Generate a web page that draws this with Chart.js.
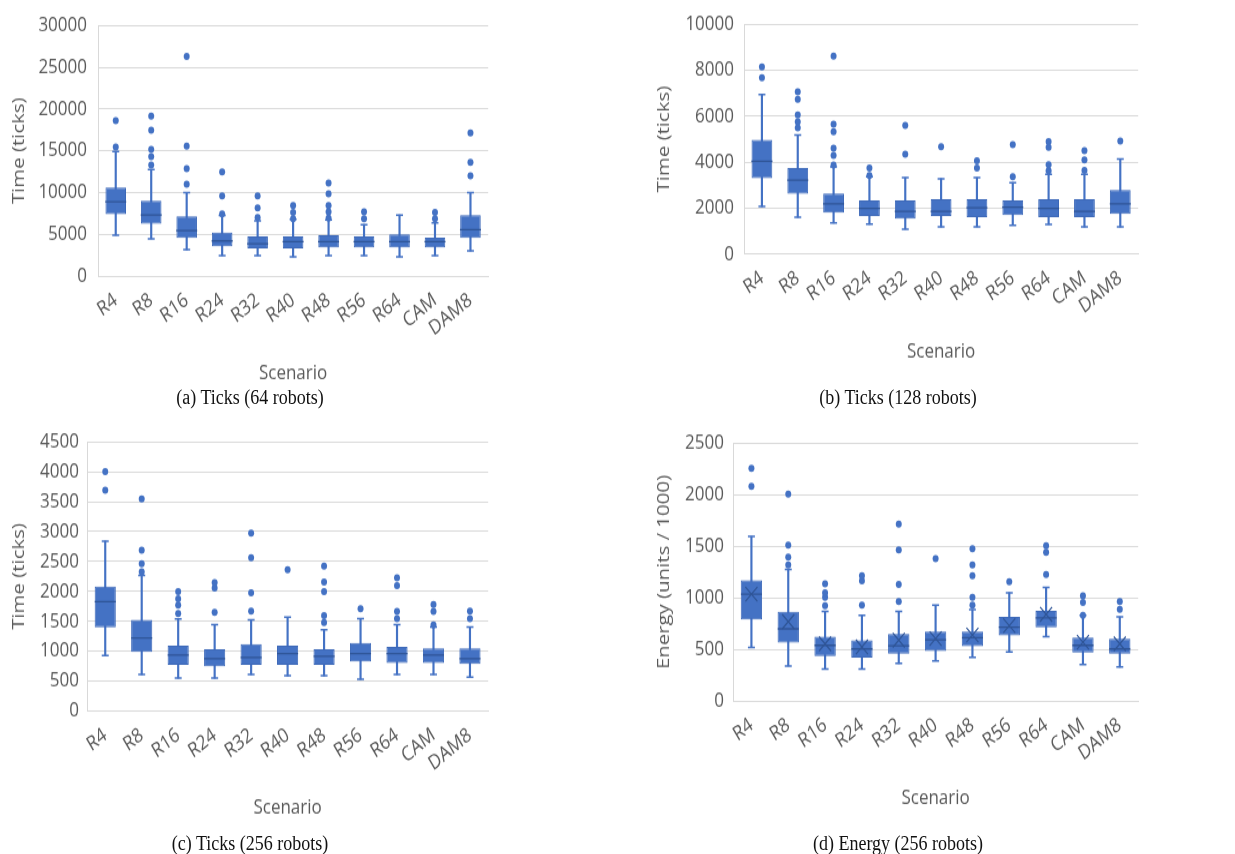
<!DOCTYPE html>
<html>
<head>
<meta charset="utf-8">
<script src="https://cdn.jsdelivr.net/npm/chart.js@4.4.1/dist/chart.umd.min.js"></script>
<style>
  html, body { margin: 0; padding: 0; background: #fff; }
  body { width: 1235px; height: 854px; overflow: hidden; }
  #fig { position: relative; width: 1235px; height: 712px; transform: scaleY(1.2); transform-origin: 0 0; }
  #fig canvas { position: absolute; }
  .caption { position: absolute; width: 400px; text-align: center; font-family: 'Liberation Serif', 'Times New Roman', serif;
             font-size: 18px; line-height: 20px; color: #111; }
</style>
</head>
<body>
<div id="fig">
  <canvas id="ticks64" width="500" height="321" style="left:0;top:0"></canvas>
  <canvas id="ticks128" width="530" height="303" style="left:620px;top:0"></canvas>
  <canvas id="ticks256" width="500" height="333" style="left:0;top:350px"></canvas>
  <canvas id="energy256" width="530" height="325" style="left:620px;top:350px"></canvas>
  <div class="caption" style="left:50px;top:321px">(a) Ticks (64 robots)</div>
  <div class="caption" style="left:698px;top:321px">(b) Ticks (128 robots)</div>
  <div class="caption" style="left:50px;top:692px">(c) Ticks (256 robots)</div>
  <div class="caption" style="left:698px;top:692px">(d) Energy (256 robots)</div>
</div>
<script>
// Scenarios on the x axis (same for all four plots)
const scenarios = ['R4', 'R8', 'R16', 'R24', 'R32', 'R40', 'R48', 'R56', 'R64', 'CAM', 'DAM8'];

// (a) completion time, 64 robots
const ticks64Low    = [4900, 4450, 3150, 2450, 2450, 2300, 2450, 2450, 2300, 2450, 3000];
const ticks64Q1     = [7400, 6250, 4550, 3550, 3300, 3300, 3400, 3400, 3400, 3400, 4550];
const ticks64Median = [8900, 7300, 5450, 4200, 3850, 4100, 4100, 4100, 4100, 4100, 5550];
const ticks64Q3     = [10600, 9000, 7150, 5200, 4750, 4750, 4900, 4750, 5000, 4600, 7300];
const ticks64High   = [14900, 12750, 10000, 7250, 6600, 6800, 6700, 6150, 7300, 6350, 10000];
const ticks64Outliers = [
  [15450, 18600], [13300, 14300, 15150, 17450, 19150], [11000, 12850, 15550, 26300],
  [7450, 9600, 12450], [7000, 8150, 9600], [6850, 7600, 8450], [6950, 7700, 8450, 9850, 11150],
  [6850, 7700], [], [6850, 7600], [12000, 13600, 17150]
];

// (b) completion time, 128 robots
const ticks128Low    = [2070, 1600, 1350, 1300, 1080, 1180, 1190, 1250, 1290, 1180, 1180];
const ticks128Q1     = [3300, 2620, 1800, 1650, 1540, 1650, 1600, 1700, 1600, 1600, 1750];
const ticks128Median = [4040, 3220, 2180, 1990, 1860, 1860, 2010, 2040, 1990, 1860, 2180];
const ticks128Q3     = [4970, 3740, 2640, 2330, 2330, 2390, 2390, 2330, 2390, 2390, 2790];
const ticks128High   = [6940, 5180, 3800, 3360, 3320, 3280, 3320, 3110, 3470, 3470, 4140];
const ticks128Outliers = [
  [7680, 8140], [5490, 5760, 6060, 6740, 7060], [3880, 4290, 4610, 5330, 5650, 8610],
  [3420, 3740], [4350, 5600], [4670], [3740, 4060], [3360, 4760], [3630, 3890, 4650, 4890],
  [3640, 4100, 4500], [4920]
];

// (c) completion time, 256 robots
const ticks256Low    = [930, 610, 550, 550, 610, 590, 590, 530, 610, 610, 565];
const ticks256Q1     = [1400, 990, 770, 745, 770, 770, 770, 830, 805, 805, 785];
const ticks256Median = [1830, 1220, 935, 875, 895, 960, 915, 960, 960, 935, 875];
const ticks256Q3     = [2080, 1525, 1095, 1035, 1120, 1095, 1035, 1140, 1075, 1050, 1050];
const ticks256High   = [2840, 2265, 1540, 1445, 1525, 1570, 1360, 1545, 1445, 1405, 1405];
const ticks256Outliers = [
  [3690, 4000], [2325, 2465, 2690, 3545], [1630, 1770, 1875, 1995], [1650, 2055, 2145],
  [1670, 1975, 2565, 2975], [2360], [1480, 1595, 1995, 2155, 2425], [1710],
  [1545, 1665, 2095, 2225], [1440, 1665, 1780], [1545, 1670]
];

// (d) energy, 256 robots (units / 1000)
const energyLow    = [520, 340, 310, 310, 365, 390, 425, 475, 625, 355, 330];
const energyQ1     = [790, 565, 435, 420, 460, 485, 530, 635, 715, 470, 460];
const energyMedian = [1035, 700, 540, 505, 535, 595, 615, 715, 805, 540, 505];
const energyQ3     = [1170, 865, 625, 590, 650, 675, 675, 815, 875, 615, 605];
const energyHigh   = [1595, 1275, 870, 830, 870, 930, 885, 1050, 1100, 830, 815];
const energyMean   = [1035, 770, 555, 525, 590, 605, 640, 730, 840, 570, 555];
const energyOutliers = [
  [2080, 2255], [1320, 1395, 1510, 2005], [925, 1005, 1050, 1135], [930, 1165, 1215],
  [965, 1130, 1465, 1715], [1380], [930, 1005, 1215, 1320, 1475], [1155], [1225, 1440, 1505],
  [830, 955, 1020], [890, 965]
];

const BLUE = '#4472c4';
const BOX_EDGE = '#3c68b8';
const DARK = '#2f5597';
const GREY_TEXT = '#595959';
const GRID = '#d9d9d9';

Chart.defaults.font.family = "'Open Sans', sans-serif";
Chart.defaults.color = GREY_TEXT;

function outlierPoints(lists) {
  const pts = [];
  lists.forEach((vals, i) => vals.forEach(v => pts.push({ x: scenarios[i], y: v })));
  return pts;
}

function capPoints(low, high) {
  const pts = [];
  scenarios.forEach((s, i) => {
    pts.push({ x: s, y: low[i] });
    pts.push({ x: s, y: high[i] });
  });
  return pts;
}

// box plot = whisker bar + IQR bar + cap/median/outlier markers
function boxDatasets(s) {
  const sets = [
    { type: 'line', data: s.median, showLine: false, pointStyle: 'line', pointRadius: 10.5,
      pointBorderColor: DARK, pointBorderWidth: 1.3, order: 0 },
    { type: 'line', data: outlierPoints(s.outliers), showLine: false, pointStyle: 'circle', pointRadius: 3,
      pointBackgroundColor: BLUE, pointBorderColor: BLUE, pointBorderWidth: 0, order: 0 },
    { type: 'line', data: capPoints(s.low, s.high), showLine: false, pointStyle: 'line', pointRadius: 3.5,
      pointBorderColor: BLUE, pointBorderWidth: 1.5, order: 1 },
    { type: 'bar', data: s.q1.map((v, i) => [v, s.q3[i]]), backgroundColor: BLUE, borderColor: BOX_EDGE,
      borderWidth: 1, borderSkipped: false, barPercentage: 0.58, categoryPercentage: 1, grouped: false, order: 2 },
    { type: 'bar', data: s.low.map((v, i) => [v, s.high[i]]), backgroundColor: BLUE,
      barThickness: 1.5, grouped: false, order: 3 }
  ];
  if (s.mean) {
    sets.unshift({ type: 'line', data: s.mean, showLine: false, pointStyle: 'crossRot', pointRadius: 8.5,
      pointBorderColor: DARK, pointBorderWidth: 1.2, order: 0 });
  }
  return sets;
}

function drawPanel(id, series, axis) {
  return new Chart(document.getElementById(id), {
    type: 'bar',
    data: { labels: scenarios, datasets: boxDatasets(series) },
    options: {
      responsive: false,
      animation: false,
      events: [],
      layout: { padding: { top: axis.top, right: 10, bottom: 0, left: 0 } },
      plugins: { legend: { display: false }, tooltip: { enabled: false } },
      scales: {
        x: {
          grid: { display: false },
          border: { color: GRID },
          ticks: { minRotation: 35, maxRotation: 35, autoSkip: false, padding: 2, font: { size: 17 } },
          title: { display: true, text: 'Scenario', font: { size: 17 }, padding: { top: 4, bottom: 0 } },
          afterFit: s => { s.height = axis.xHeight; }
        },
        y: {
          min: 0, max: axis.max,
          grid: { color: GRID, drawTicks: false },
          border: { color: GRID },
          ticks: { stepSize: axis.step, padding: axis.tickPad, font: { size: 17 }, callback: v => String(v) },
          title: { display: true, text: axis.title, font: { size: 17 }, padding: { top: axis.titlePad, bottom: 0 } },
          afterFit: s => { s.width = axis.yWidth; }
        }
      }
    }
  });
}

drawPanel('ticks64',
  { low: ticks64Low, q1: ticks64Q1, median: ticks64Median, q3: ticks64Q3, high: ticks64High, outliers: ticks64Outliers },
  { max: 30000, step: 5000, title: 'Time (ticks)', top: 11.7, xHeight: 91, yWidth: 98, tickPad: 11, titlePad: 8.8 });

drawPanel('ticks128',
  { low: ticks128Low, q1: ticks128Q1, median: ticks128Median, q3: ticks128Q3, high: ticks128High, outliers: ticks128Outliers },
  { max: 10000, step: 2000, title: 'Time (ticks)', top: 11.7, xHeight: 91.3, yWidth: 124, tickPad: 10, titlePad: 33.8 });

drawPanel('ticks256',
  { low: ticks256Low, q1: ticks256Q1, median: ticks256Median, q3: ticks256Q3, high: ticks256High, outliers: ticks256Outliers },
  { max: 4500, step: 500, title: 'Time (ticks)', top: 14.2, xHeight: 90.5, yWidth: 87, tickPad: 8, titlePad: 8.8 });

drawPanel('energy256',
  { low: energyLow, q1: energyQ1, median: energyMedian, q3: energyQ3, high: energyHigh, outliers: energyOutliers, mean: energyMean },
  { max: 2500, step: 500, title: 'Energy (units / 1000)', top: 14.2, xHeight: 90.8, yWidth: 113, tickPad: 9, titlePad: 33.8 });
</script>
</body>
</html>
